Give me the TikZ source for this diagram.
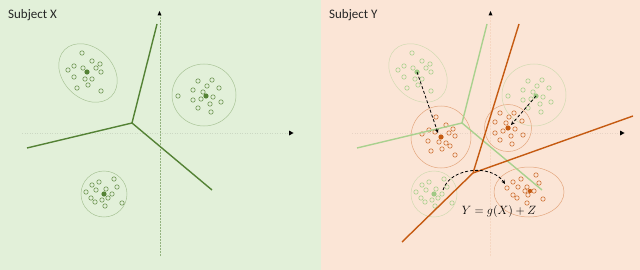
\documentclass[tikz,border=0pt]{standalone}
\usepackage{fontspec}
\setmainfont{Carlito}
\usetikzlibrary{arrows.meta}
\definecolor{bgG}{HTML}{E2F0D9}
\definecolor{bgO}{HTML}{FBE5D6}
\definecolor{dkG}{HTML}{548235}
\definecolor{ltG}{HTML}{A9D18E}
\definecolor{orng}{HTML}{C55A11}
\begin{document}
\begin{tikzpicture}[x=1pt,y=1pt,
  panelG/.style={fill=bgG, draw=none},
  panelO/.style={fill=bgO, draw=none},
  title/.style={anchor=west, font=\fontsize{13}{15}\selectfont, text=black!85, inner sep=0pt},
  vaxis/.style={draw=#1, line width=0.5pt, dash pattern=on 2pt off 1pt},
  haxis/.style={draw=#1, line width=0.4pt, dash pattern=on 1pt off 1.5pt},
  axtip/.style={fill=black, draw=none, inner sep=0pt},
  vorG/.style={draw=dkG, line width=1.4pt},
  vorL/.style={draw=ltG, line width=1.4pt},
  vorO/.style={draw=orng, line width=1.4pt},
  hullG/.style={draw=dkG!40!bgG, line width=0.5pt},
  hullL/.style={draw=ltG!50!bgO, line width=0.5pt},
  hullO/.style={draw=orng!45!bgO, line width=0.5pt},
  ptG/.style={draw=dkG!85, line width=0.6pt},
  ptL/.style={draw=ltG, line width=0.6pt},
  ptO/.style={draw=orng!85, line width=0.6pt},
  moveArrow/.style={draw=black, line width=0.8pt, dash pattern=on 3pt off 2pt, -{Stealth[length=4pt,width=3.5pt]}}
]
\useasboundingbox (0,0) rectangle (640,-270);
% panels
\fill[panelG] (0,0) rectangle (321,-270);
\fill[panelO] (321,0) rectangle (640,-270);
\node[title] (tX) at (8,-15) {Subject X};
\node[title] (tY) at (329,-15) {Subject Y};

% ---------- left panel ----------
\coordinate (lvb) at (160,-256);
\coordinate (lvt) at (160,-14);
\coordinate (lhl) at (22,-133);
\coordinate (lhr) at (289,-133);
\draw[vaxis=dkG!55!bgG] (lvb) -- (lvt);
\draw[haxis=black!10!bgG] (lhl) -- (lhr);
\fill[axtip] (157.5,-15.5) -- (159.5,-11) -- (161.5,-15.5) -- cycle;
\fill[axtip] (289,-130.5) -- (293.5,-133) -- (289,-135.5) -- cycle;

% voronoi X
\coordinate (jX) at (132,-123);
\coordinate (jXu) at (157,-24);
\coordinate (jXl) at (27,-148);
\coordinate (jXr) at (212,-190);
\draw[vorG] (jXl) -- (jX) -- (jXu);
\draw[vorG] (jX) -- (jXr);

% clusters X
\draw[hullG] (88,-73) ellipse [x radius=33, y radius=25, rotate=-45];
\draw[hullG] (204,-95) ellipse [x radius=32, y radius=31];
\draw[hullG] (104,-194) circle [radius=23];
\foreach \x/\y in {82/53,92/61,100/64,74/66,68/70,83/68,96/68,101/72,74/77,85/79,92/79,88/85,77/88,101/91}
  \draw[ptG] (\x,-\y) circle [radius=2.2];
\foreach \x/\y in {198/81,212/80,207/86,219/88,193/90,203/92,178/96,213/97,193/100,201/99,221/102,210/104,198/108,211/112}
  \draw[ptG] (\x,-\y) circle [radius=2.2];
\foreach \x/\y in {114/179,99/182,92/185,117/187,96/190,106/189,86/192,112/194,91/198,108/198,95/202,102/200,122/203,105/206}
  \draw[ptG] (\x,-\y) circle [radius=2.2];
\fill[dkG] (87,-72) circle [radius=2.6];
\fill[dkG] (206,-96) circle [radius=2.6];
\fill[dkG] (104,-194) circle [radius=2.6];

% ---------- right panel ----------
\coordinate (rvb) at (490,-256);
\coordinate (rvt) at (490,-15);
\coordinate (rhl) at (352,-133);
\coordinate (rhr) at (619,-133);
\draw[vaxis=orng!10!bgO] (rvb) -- (rvt);
\draw[haxis=black!8!bgO] (rhl) -- (rhr);
\fill[axtip] (488.5,-15.5) -- (490.5,-11) -- (492.5,-15.5) -- cycle;
\fill[axtip] (620,-130.5) -- (624.5,-133) -- (620,-135.5) -- cycle;

% shifted X clusters (light)
\begin{scope}[xshift=330pt]
  \draw[hullL] (88,-73) ellipse [x radius=33, y radius=25, rotate=-45];
  \draw[hullL] (204,-95) ellipse [x radius=32, y radius=31];
  \draw[hullL] (104,-194) circle [radius=23];
  \foreach \x/\y in {82/53,92/61,100/64,74/66,68/70,83/68,96/68,101/72,74/77,85/79,92/79,88/85,77/88,101/91}
    \draw[ptL] (\x,-\y) circle [radius=2.2];
  \foreach \x/\y in {198/81,212/80,207/86,219/88,193/90,203/92,178/96,213/97,193/100,201/99,221/102,210/104,198/108,211/112}
    \draw[ptL] (\x,-\y) circle [radius=2.2];
  \foreach \x/\y in {114/179,99/182,92/185,117/187,96/190,106/189,86/192,112/194,91/198,108/198,95/202,102/200,122/203,105/206}
    \draw[ptL] (\x,-\y) circle [radius=2.2];
  \fill[ltG!90!dkG] (87,-72) circle [radius=2.6];
  \fill[ltG!90!dkG] (206,-96) circle [radius=2.6];
  \fill[ltG!90!dkG] (104,-194) circle [radius=2.6];
  \coordinate (jL) at (132,-123);
  \coordinate (jLu) at (157,-24);
  \coordinate (jLl) at (27,-148);
  \coordinate (jLr) at (212,-190);
\end{scope}
\coordinate (gA) at (417,-72);
\coordinate (gB) at (536,-96);
\coordinate (gC) at (434,-194);

% orange clusters
\draw[hullO] (441,-137) ellipse [x radius=30, y radius=31];
\draw[hullO] (508,-128) circle [radius=23.5];
\draw[hullO] (529,-192) ellipse [x radius=35, y radius=25];
\foreach \x/\y in {436/117,446/125,453/129,429/130,435/132,422/134,449/133,455/136,428/141,439/142,446/143,450/146,442/149,431/151,455/155}
  \draw[ptO] (\x,-\y) circle [radius=2.2];
\foreach \x/\y in {500/113,509/117,514/113,495/122,506/123,522/121,515/129,503/131,495/133,511/136,523/135,500/140,512/144}
  \draw[ptO] (\x,-\y) circle [radius=2.2];
\foreach \x/\y in {536/175,521/179,513/182,539/183,507/188,518/187,527/187,534/191,525/191,513/195,517/198,528/195,543/199,527/203}
  \draw[ptO] (\x,-\y) circle [radius=2.2];
\fill[orng] (441,-137) circle [radius=2.6] coordinate (oA);
\fill[orng] (508,-128) circle [radius=2.6] coordinate (oB);
\fill[orng] (530,-191) circle [radius=2.2] coordinate (oC);

% light voronoi lines
\draw[vorL] (jLl) -- (jL) -- (jLu);
\draw[vorL] (jL) -- (jLr);

% orange voronoi Y
\coordinate (jY) at (473,-173);
\coordinate (jYu) at (519,-24);
\coordinate (jYl) at (402,-242);
\coordinate (jYr) at (633,-116);
\draw[vorO] (jYl) -- (jY) -- (jYu);
\draw[vorO] (jY) -- (jYr);

% mapping arrows
\coordinate (eA) at (438,-133);
\coordinate (eB) at (511,-125);
\coordinate (sC) at (443,-190);
\coordinate (eC) at (505,-184);
\draw[moveArrow] (gA) -- (eA);
\draw[moveArrow] (gB) -- (eB);
\draw[moveArrow] (sC) .. controls (450,-167) and (492,-164) .. (eC);

\node[font=\fontsize{13}{15}\selectfont, inner sep=0pt] (eq) at (499,-211) {$Y = g(X) + Z$};
\end{tikzpicture}
\end{document}
